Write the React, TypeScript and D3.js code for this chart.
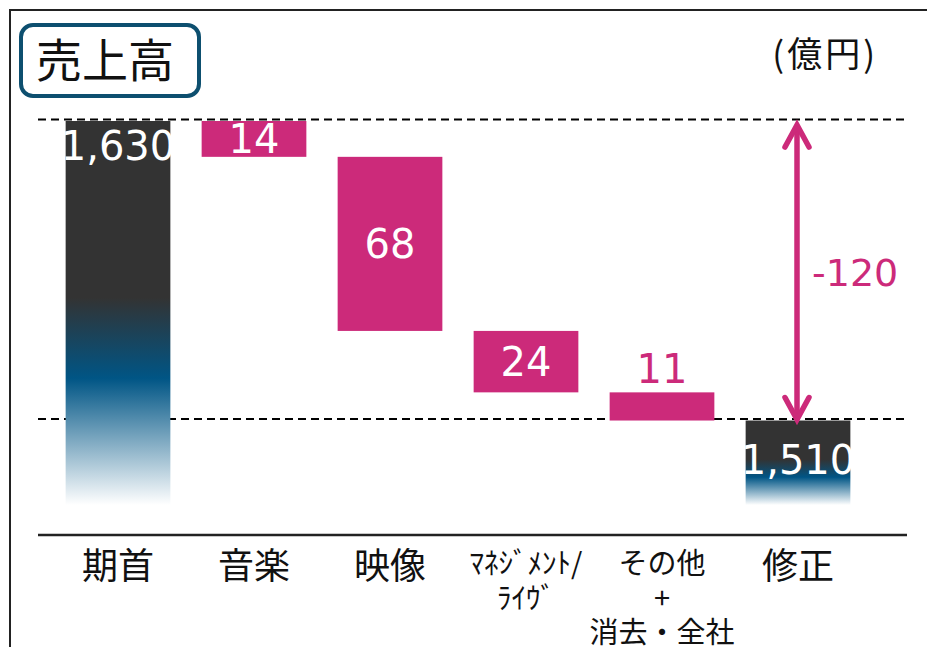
import * as d3 from "d3";
import { useEffect, useRef } from "react";

// chart data (億円)
const categories = ["期首", "音楽", "映像", "マネジメント/ライヴ", "その他+消去・全社", "修正"];
const categoryLines = [["期首"], ["音楽"], ["映像"], ["ﾏﾈｼﾞﾒﾝﾄ/", "ﾗｲｳﾞ"], ["その他", "+", "消去・全社"], ["修正"]];
const startValue = 1630;
const decreases = [14, 68, 24, 11];
const endValue = 1510;
const totalChange = -120;
const axisFloor = 1480; // truncated base of the total bars

export default function App() {
  const width = 927;
  const height = 647;
  const svgRef = useRef<SVGSVGElement>(null);

  useEffect(() => {
    const svg = d3.select(svgRef.current);
    svg.selectAll("*").remove();

    const pink = "#cc2a7a";
    const numFont = "'DejaVu Sans', Verdana, sans-serif";
    const jpFont = "'Noto Sans CJK JP', sans-serif";

    const x = d3
      .scaleBand()
      .domain(categories)
      .range([50, 866])
      .paddingInner(0.23)
      .paddingOuter(0.115);
    const y = d3.scaleLinear().domain([axisFloor, startValue]).range([505, 121]);
    const bw = x.bandwidth();

    // waterfall steps
    let running = startValue;
    const steps = decreases.map((d, i) => {
      const top = running;
      running -= d;
      return { cat: categories[i + 1], top, bottom: running, value: d };
    });
    const endTop = running;
    const totals = [
      { cat: categories[0], top: startValue, label: d3.format(",")(startValue) },
      { cat: categories[5], top: endTop, label: d3.format(",")(endValue) },
    ];

    // gradient for total bars
    const grad = svg
      .append("defs")
      .append("linearGradient")
      .attr("id", "fade")
      .attr("x1", 0)
      .attr("y1", 0)
      .attr("x2", 0)
      .attr("y2", 1);
    grad.append("stop").attr("offset", "0%").attr("stop-color", "#333333");
    grad.append("stop").attr("offset", "46%").attr("stop-color", "#333333");
    grad.append("stop").attr("offset", "67%").attr("stop-color", "#005585");
    grad.append("stop").attr("offset", "100%").attr("stop-color", "#ffffff");

    // outer frame
    svg
      .append("rect")
      .attr("x", 10)
      .attr("y", 10)
      .attr("width", 940)
      .attr("height", 660)
      .attr("fill", "none")
      .attr("stroke", "#222")
      .attr("stroke-width", 2);

    // title box
    svg
      .append("rect")
      .attr("x", 21)
      .attr("y", 25)
      .attr("width", 178)
      .attr("height", 71)
      .attr("rx", 12)
      .attr("fill", "#fff")
      .attr("stroke", "#0d4f6f")
      .attr("stroke-width", 4);
    svg
      .append("text")
      .attr("x", 105)
      .attr("y", 77)
      .attr("text-anchor", "middle")
      .attr("font-family", jpFont)
      .attr("font-size", 46)
      .attr("fill", "#111")
      .text("売上高");

    svg
      .append("text")
      .attr("x", 878)
      .attr("y", 67)
      .attr("text-anchor", "end")
      .attr("font-family", jpFont)
      .attr("font-size", 35)
      .attr("letter-spacing", 3)
      .attr("fill", "#111")
      .text("(億円)");

    // reference dashed lines
    svg
      .selectAll(".ref")
      .data([startValue, endTop])
      .enter()
      .append("line")
      .attr("x1", 38)
      .attr("x2", 907)
      .attr("y1", (d) => y(d) - 1.5)
      .attr("y2", (d) => y(d) - 1.5)
      .attr("stroke", "#000")
      .attr("stroke-width", 2)
      .attr("stroke-dasharray", "8,5");

    // total bars
    svg
      .selectAll(".total")
      .data(totals)
      .enter()
      .append("rect")
      .attr("x", (d) => x(d.cat)!)
      .attr("y", (d) => y(d.top))
      .attr("width", bw)
      .attr("height", (d) => y(axisFloor) - y(d.top))
      .attr("fill", "url(#fade)");

    svg
      .selectAll(".totalLabel")
      .data(totals)
      .enter()
      .append("text")
      .attr("x", (d) => x(d.cat)! + bw / 2)
      .attr("y", (d, i) => (i === 0 ? y(d.top) + 39 : (y(d.top) + y(axisFloor)) / 2 + 11))
      .attr("text-anchor", "middle")
      .attr("font-family", numFont)
      .attr("font-size", 40)
      .attr("fill", "#fff")
      .text((d) => d.label);

    // decrease bars
    svg
      .selectAll(".step")
      .data(steps)
      .enter()
      .append("rect")
      .attr("x", (d) => x(d.cat)!)
      .attr("y", (d) => y(d.top))
      .attr("width", bw)
      .attr("height", (d) => y(d.bottom) - y(d.top))
      .attr("fill", pink);

    svg
      .selectAll(".stepLabel")
      .data(steps)
      .enter()
      .append("text")
      .attr("x", (d) => x(d.cat)! + bw / 2)
      .attr("y", (d) => {
        const h = y(d.bottom) - y(d.top);
        return h > 30 ? (y(d.top) + y(d.bottom)) / 2 + 14.5 : y(d.top) - 9;
      })
      .attr("text-anchor", "middle")
      .attr("font-family", numFont)
      .attr("font-size", 40)
      .attr("fill", (d) => (y(d.bottom) - y(d.top) > 30 ? "#fff" : pink))
      .text((d) => d.value);

    // double arrow for total change
    const ax = x(categories[5])! + bw / 2 - 1;
    const yTop = y(startValue) + 2;
    const yBot = y(endTop) + 1;
    svg
      .append("line")
      .attr("x1", ax)
      .attr("x2", ax)
      .attr("y1", yTop + 3)
      .attr("y2", yBot - 3)
      .attr("stroke", pink)
      .attr("stroke-width", 5.5);
    const head = d3.line();
    [
      [[ax - 12, yTop + 24], [ax, yTop + 2], [ax + 12, yTop + 24]],
      [[ax - 12, yBot - 24], [ax, yBot - 2], [ax + 12, yBot - 24]],
    ].forEach((pts) => {
      svg
        .append("path")
        .attr("d", head(pts as [number, number][]))
        .attr("fill", "none")
        .attr("stroke", pink)
        .attr("stroke-width", 5.5)
        .attr("stroke-linecap", "round")
        .attr("stroke-linejoin", "miter");
    });
    svg
      .append("text")
      .attr("x", ax + 15)
      .attr("y", (yTop + yBot) / 2 + 14)
      .attr("font-family", numFont)
      .attr("font-size", 38)
      .attr("fill", pink)
      .text(String(totalChange));

    // x axis line and category labels
    svg
      .append("line")
      .attr("x1", 38)
      .attr("x2", 907)
      .attr("y1", 535)
      .attr("y2", 535)
      .attr("stroke", "#222")
      .attr("stroke-width", 2.5);

    const labels = svg
      .selectAll(".cat")
      .data(categories)
      .enter()
      .append("text")
      .attr("text-anchor", "middle")
      .attr("font-family", jpFont)
      .attr("fill", "#111")
      .attr("font-size", (d, i) => (categoryLines[i].length > 1 ? 29 : 36));
    labels
      .selectAll("tspan")
      .data((d, i) => categoryLines[i].map((t) => ({ t, cat: d, multi: categoryLines[i].length > 1 })))
      .enter()
      .append("tspan")
      .attr("x", (d) => x(d.cat)! + bw / 2)
      .attr("y", (d, j) => (d.multi ? 574 + j * 34.5 : 579))
      .text((d) => d.t);
  }, []);

  return (
    <>
      <style>{`body{margin:0}`}</style>
      <svg ref={svgRef} width={width} height={height} style={{ display: "block" }} />
    </>
  );
}
